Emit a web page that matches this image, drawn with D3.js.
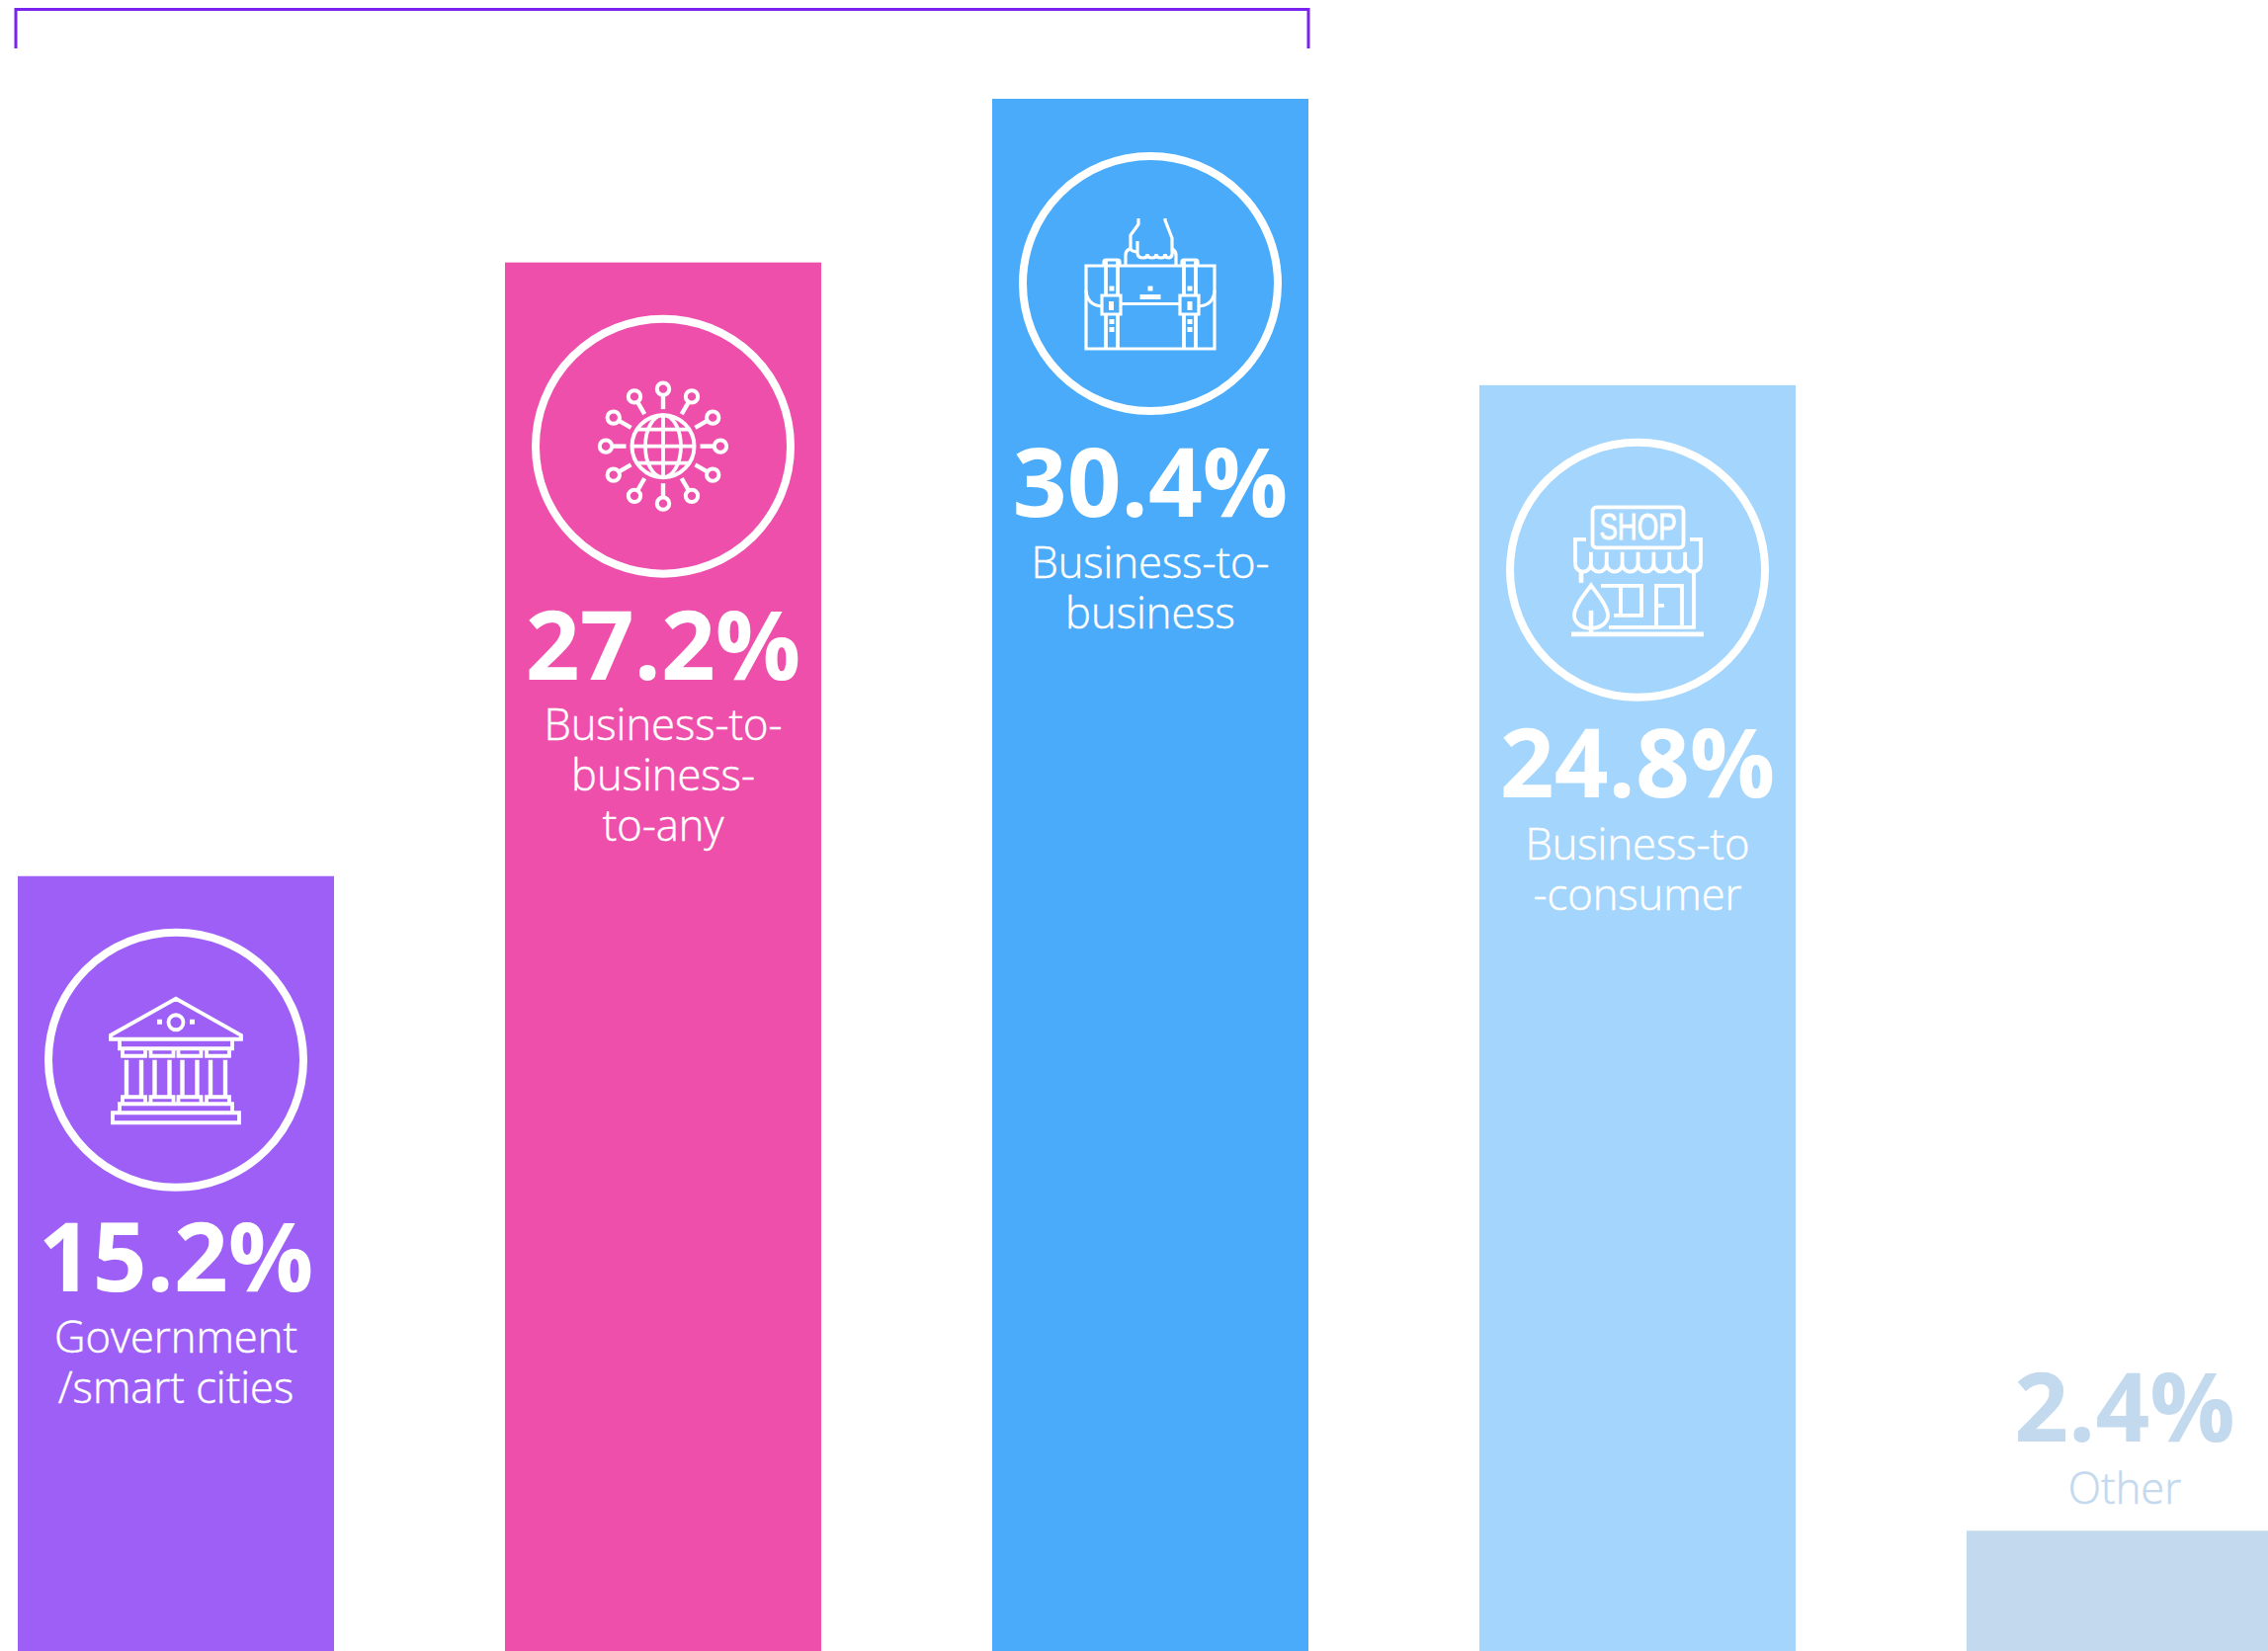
<!DOCTYPE html>
<html>
<head>
<meta charset="utf-8">
<script src="https://cdnjs.cloudflare.com/ajax/libs/d3/7.8.5/d3.min.js"></script>
<style>
html,body{margin:0;padding:0;background:#fff;overflow:hidden}
svg{display:block}
text{font-family:"Open Sans",sans-serif;text-anchor:middle}
.icon *{fill:none;stroke:#fff;stroke-width:3.8}
.icon .solid{fill:#fff;stroke:none}
</style>
</head>
<body>
<svg id="chart" width="2295" height="1671"></svg>
<script>
const categories = ["gov", "b2b2x", "b2b", "b2c", "other"];
const values = [15.2, 27.2, 30.4, 24.8, 2.4];
const valueLabels = ["15.2%", "27.2%", "30.4%", "24.8%", "2.4%"];
const nameLabels = [
  ["Government", "/smart cities"],
  ["Business-to-", "business-", "to-any"],
  ["Business-to-", "business"],
  ["Business-to", "-consumer"],
  ["Other"]
];
const barColors = ["#9D5FF5", "#ED4FAB", "#49ABF9", "#A4D5FC", "#C3D9EE"];
const bracketColor = "#7A22EE";
const circleNudge = [0, 0, 1, 1, 0];
const valueNudge = [0, 2, 3, -3, 0];
const nameNudge = [1, 2.5, 4, -0.5, 1];

const svg = d3.select("#chart");
const x = d3.scaleBand().domain(categories).range([18, 2310]).paddingInner(173 / 493).paddingOuter(0);
const y = d3.scaleLinear().domain([0, 30.4]).range([1673.5, 100]);

// bracket over the first three bars
svg.append("path")
  .attr("d", d3.line()([[16, 49], [16, 9.5], [1324, 9.5], [1324, 49]]))
  .attr("fill", "none").attr("stroke", bracketColor).attr("stroke-width", 3);

// bars
svg.selectAll("rect.bar").data(categories).join("rect")
  .attr("class", "bar")
  .attr("x", d => x(d))
  .attr("y", (d, i) => y(values[i]))
  .attr("width", x.bandwidth())
  .attr("height", (d, i) => y(0) - y(values[i]))
  .attr("fill", (d, i) => barColors[i]);

// icons, drawn in local units around the circle centre
function line(g, d, w) { const p = g.append("path").attr("d", d); if (w) p.style("stroke-width", w); return p; }
function sq(g, a, b, c, e) { g.append("rect").attr("class", "solid").attr("x", a).attr("y", b).attr("width", c).attr("height", e); }

function bank(g) {
  line(g, "M-66,-25L0,-62L66,-25V-21H-66Z");
  g.append("circle").attr("cx", 0).attr("cy", -38).attr("r", 7.5);
  sq(g, -19, -41, 5, 5); sq(g, 14, -41, 5, 5);
  line(g, "M-57,-21V-11.5H57V-21");
  [[-54, -31], [-25.5, -2.5], [2.5, 25.5], [31, 54]].forEach(([a, b]) => {
    line(g, `M${a},-11.5V-4H${b}V-11.5`);
    line(g, `M${a + 4},0V37M${b - 4},0V37`, 4.4);
    line(g, `M${a},44.5V37.5H${b}V44.5`);
  });
  line(g, "M-57,53.5V44.5H57V53.5");
  line(g, "M-64,53.5H64V63.5H-64Z");
}

function globe(g) {
  g.append("circle").attr("r", 31.5).style("stroke-width", 4);
  g.append("ellipse").attr("rx", 18).attr("ry", 31.5);
  line(g, "M0,-31.5V31.5M-31.5,0H31.5M-26,-17H26M-26,17H26");
  d3.range(12).forEach(i => {
    const a = i * Math.PI / 6, c = Math.cos(a), s = Math.sin(a);
    line(g, `M${37.5 * c},${37.5 * s}L${51.5 * c},${51.5 * s}`, 4.4);
    g.append("circle").attr("cx", 58 * c).attr("cy", 58 * s).attr("r", 6.2).style("stroke-width", 4);
  });
}

function briefcase(g) {
  line(g, "M-65,-18H65V66H-65Z", 3.2);
  line(g, "M-45,-23V12M-45,31V66M-33,-23V12M-33,31V66M34,-23V12M34,31V66M46,-23V12M46,31V66");
  line(g, "M-47,-18V-22Q-47,-24 -45,-24H-33Q-31,-24 -31,-22V-18", 3.2);
  line(g, "M32,-18V-22Q32,-24 34,-24H46Q48,-24 48,-22V-18", 3.2);
  line(g, "M-49,12H-30V31H-49Z", 3.2);
  line(g, "M30,12H49V31H30Z", 3.2);
  line(g, "M-65,7Q-64,22 -49,23M65,7Q64,22 49,23M-30,20.5H30", 3.2);
  sq(g, -42, 18, 5, 9); sq(g, 37.5, 18, 5, 9);
  [2.5, 36, 44].forEach(v => { sq(g, -41.5, v, 5, 5); sq(g, 37.5, v, 5, 5); });
  sq(g, -2.5, 2.5, 5, 5);
  sq(g, -10.5, 11, 21, 5);
  line(g, "M-25,-18V-29Q-25,-33 -21,-35M26,-18V-29Q26,-33 22,-35", 3.2);
  line(g, "M-12,-66V-60L-20,-49V-36Q-20,-33 -14,-32M-13,-43V-31Q-13,-26 -7,-26Q-3,-26 -3,-30Q-3,-26 2,-26Q6,-26 6,-30Q6,-26 11,-26Q15,-26 15,-30Q15,-26 19,-26Q23,-27 22,-33V-46L15,-64V-66", 3.2);
}

function shop(g) {
  g.append("rect").attr("x", -45.5).attr("y", -63.5).attr("width", 92).attr("height", 41).attr("rx", 4);
  g.append("text").attr("x", 0.5).attr("y", -30.5)
    .style("font-family", "'Liberation Sans Narrow','Liberation Sans',sans-serif").style("font-weight", 400)
    .style("font-size", "36px").style("fill", "#fff").style("stroke", "#fff").style("stroke-width", 0.9)
    .attr("textLength", 78).attr("lengthAdjust", "spacingAndGlyphs").text("SHOP");
  line(g, "M-52,-31H-63V-6M53,-31H64V-6");
  let d = "M-63,-6";
  d3.range(8).forEach(i => {
    const a = -63 + i * 15.875, b = a + 15.875;
    d += `A7.94,7.94 0 0 0 ${b},-6`;
    if (i < 7) d += `M${b},-18V-6`;
  });
  line(g, d);
  line(g, "M-57,1V13", 4.6);
  line(g, "M57,0V58H-29");
  line(g, "M-37,16H4V46H-24M-17,16V46");
  line(g, "M19,57V16H45V57M19,36H27");
  line(g, "M-47,15.5C-52,23 -64,36 -64,46C-64,54 -56,59 -47,59C-38,59 -30,54 -30,46C-30,36 -42,23 -47,15.5Z");
  line(g, "M-47,41V65", 4.6);
  line(g, "M-67,65H67", 4.6);
}

const iconFns = [bank, globe, briefcase, shop, null];

categories.forEach((c, i) => {
  const cx = x(c) + x.bandwidth() / 2, top = y(values[i]);
  const textColor = i === 4 ? barColors[4] : "#fff";
  let valueY, nameY;
  if (iconFns[i]) {
    const g = svg.append("g").attr("class", "icon").attr("transform", `translate(${cx},${top + 186 + circleNudge[i]})`);
    g.append("circle").attr("r", 129).style("stroke-width", 8);
    iconFns[i](g);
    valueY = top + 420; nameY = top + 481;
  } else {
    valueY = top - 90; nameY = top - 28;
  }
  svg.append("text").attr("x", cx).attr("y", valueY + valueNudge[i])
    .attr("fill", textColor).style("font-size", "96px").style("font-weight", 700).text(valueLabels[i]);
  nameLabels[i].forEach((t, k) => {
    svg.append("text").attr("x", cx).attr("y", nameY + nameNudge[i] + k * 51)
      .attr("fill", textColor).attr("stroke", textColor).attr("stroke-width", 0.5)
      .style("font-size", "43.5px").style("font-weight", 300).text(t);
  });
});
</script>
</body>
</html>
